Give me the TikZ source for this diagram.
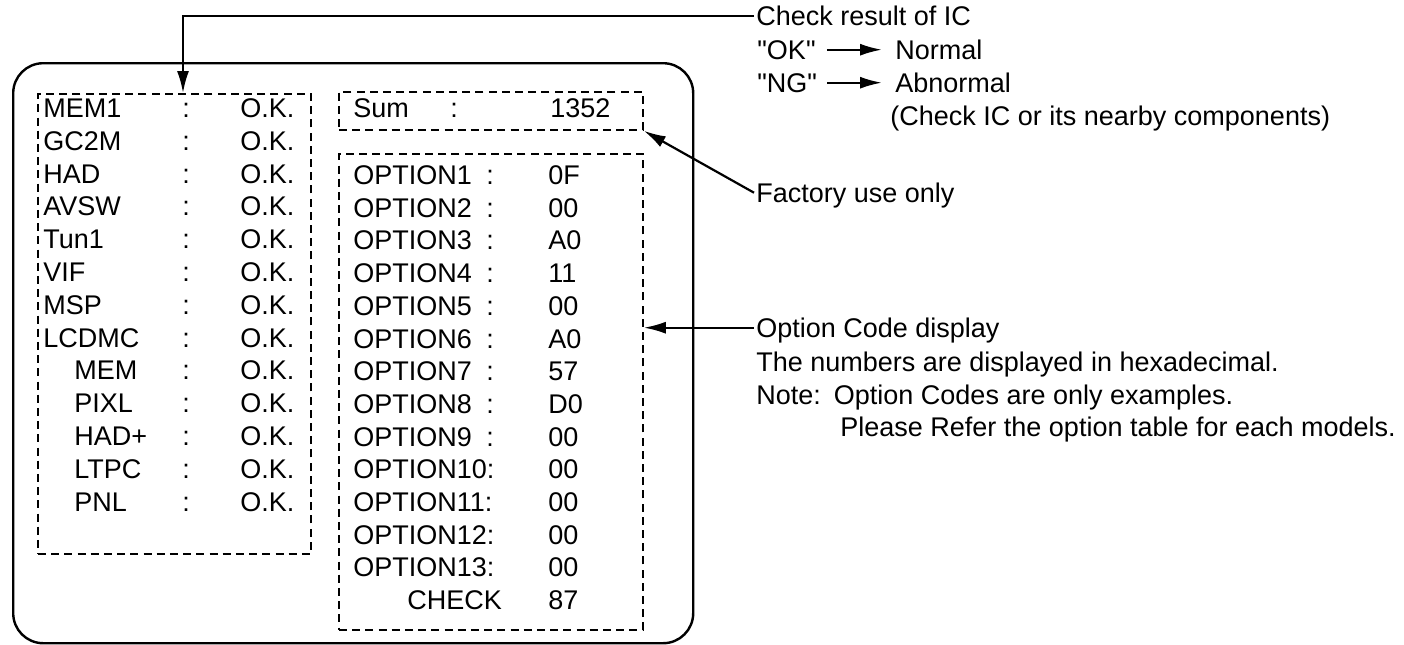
\documentclass[tikz,border=0pt]{standalone}
\usepackage{fontspec}
\setmainfont{Liberation Sans}[Ligatures=TeXOff]
\usetikzlibrary{arrows.meta}
\usetikzlibrary{calc}

\tikzset{
    dbox/.style={draw, dash pattern=on 4pt off 2.6pt, line width=0.9pt, inner sep=0pt, anchor=north west},
    txt/.style={inner sep=0pt, anchor=base west, text height=9.8pt, text depth=0pt},
    arr/.style={line width=1.1pt, -{Latex[length=11pt, width=6pt]}},
}

\begin{document}
\begin{tikzpicture}[x=0.5pt, y=-0.5pt, font=\fontsize{13.5pt}{16pt}\selectfont]
    \useasboundingbox (0,0) rectangle (1404,644);
    % screen and its boxes
    \node[draw, line width=1.2pt, rounded corners=15pt, anchor=north west, minimum width=340pt, minimum height=290pt] (screen) at (12,62) {};
    \node[dbox, minimum width=136.5pt, minimum height=230pt] (icbox) at (37,93) {};
    \node[dbox, minimum width=152pt, minimum height=19pt] (sumbox) at (338,91) {};
    \node[dbox, minimum width=152pt, minimum height=238pt] (optbox) at (338,153) {};

    % IC check list
    \foreach \nm/\xx [count=\i from 0] in {MEM1/43, GC2M/43, HAD/43, AVSW/43, Tun1/43, VIF/43, MSP/43, LCDMC/43, MEM/74, PIXL/74, HAD+/74, LTPC/74, PNL/74} {
        \node[txt] (ic\i) at (\xx,117.5+32.8*\i) {\nm};
        \node[txt] (icc\i) at (182,117.5+32.8*\i) {:};
        \node[txt] (ick\i) at (240,117.5+32.8*\i) {O.K.};
    }

    % sum and option codes
    \node[txt] (sum) at (353,117.5) {Sum};
    \node[txt] (sumc) at (450,117.5) {:};
    \node[txt] (sumv) at (550,117.5) {1352};
    \foreach \val [count=\i] in {0F,00,A0,11,00,A0,57,D0,00} {
        \node[txt] (op\i) at (353,151.8+32.7*\i) {OPTION\i};
        \node[txt] (opc\i) at (486,151.8+32.7*\i) {:};
        \node[txt] (opv\i) at (548,151.8+32.7*\i) {\val};
    }
    \foreach \val [count=\i from 10] in {00,00,00,00} {
        \node[txt] (op\i) at (353,151.8+32.7*\i) {OPTION\i:};
        \node[txt] (opv\i) at (548,151.8+32.7*\i) {\val};
    }
    \node[txt] (chk) at (407,151.8+32.7*14) {CHECK};
    \node[txt] (chkv) at (548,151.8+32.7*14) {87};

    % notes on the right
    \node[txt] (chkres) at (756,25.5) {Check result of IC};
    \node[txt] (ok) at (757,59.5) {"OK"};
    \node[txt] (normal) at (895,59.5) {Normal};
    \node[txt] (ng) at (757,92.5) {"NG"};
    \node[txt] (abn) at (895,92.5) {Abnormal};
    \node[txt] (nearby) at (890,125.5) {(Check IC or its nearby components)};
    \node[txt] (factory) at (756,202.5) {Factory use only};
    \node[txt] (optcode) at (756,337.5) {Option Code display};
    \node[txt] (hexa) at (756,371.5) {The numbers are displayed in hexadecimal.};
    \node[txt] (note) at (756,404.5) {Note:\hspace{6.5pt}Option Codes are only examples.};
    \node[txt] (refer) at (840,436.5) {Please Refer the option table for each models.};

    % connectors
    \coordinate (ictop) at ($(icbox.north west)+(146,0)$);
    \draw[arr] ([xshift=-1pt]chkres.west) -| (ictop);
    \draw[arr] ([xshift=5.5pt]ok.east) -- ([xshift=-6.5pt]normal.west);
    \draw[arr] ([xshift=5pt]ng.east) -- ([xshift=-6.5pt]abn.west);
    \draw[arr] ([xshift=-1pt]factory.west) -- (sumbox.south east);
    \draw[arr] ([xshift=-1pt]optcode.west) -- (optcode.west -| optbox.east);
\end{tikzpicture}
\end{document}
